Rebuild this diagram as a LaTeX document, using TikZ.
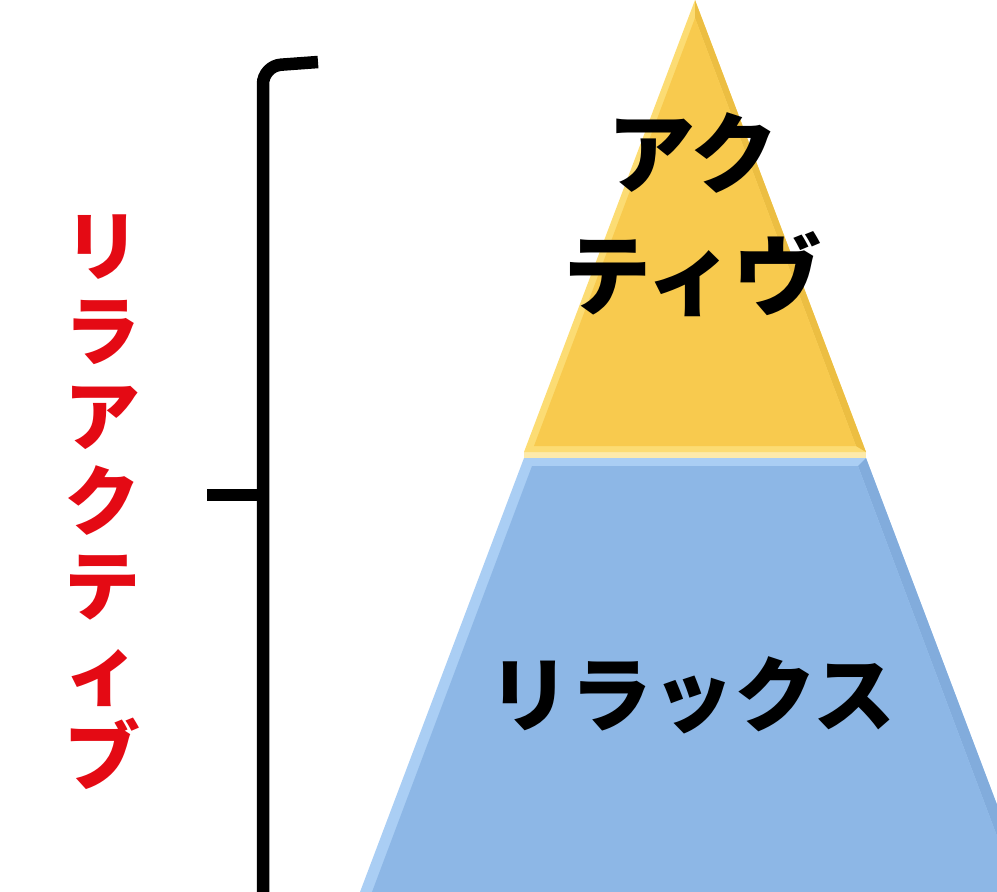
\documentclass[tikz,border=0pt]{standalone}
\usepackage{fontspec}
\newfontfamily\jp{Noto Sans CJK JP}
\definecolor{goldfill}{RGB}{248,202,78}
\definecolor{goldlight}{RGB}{252,220,115}
\definecolor{golddark}{RGB}{236,190,66}
\definecolor{skyfill}{RGB}{141,183,230}
\definecolor{skylight}{RGB}{170,206,244}
\definecolor{skydark}{RGB}{130,172,220}
\definecolor{redtext}{RGB}{228,10,20}
\tikzset{
  bracket/.style={line width=12.5pt, black},
  label/.style={inner sep=0pt, align=center, text=black},
}
\begin{document}
\begin{tikzpicture}[x=1pt,y=-1pt]
\useasboundingbox (0,0) rectangle (997,892);
\begin{scope}
\clip (0,0) rectangle (997,892);
% blue trapezoid (bevel + face)
\fill[skylight] (524,458) -- (866,458) -- (1030,892) -- (360,892) -- cycle;
\fill[skydark] (866,458) -- (1030,892) -- (1018,892) -- (858,466) -- cycle;
\fill[skyfill] (532,466) -- (858,466) -- (1018,892) -- (372,892) -- cycle;
% separator
\fill[goldlight!60!white] (524,452) rectangle (866,458);
% yellow triangle (bevel + face)
\fill[goldlight] (695,0) -- (866,452) -- (524,452) -- cycle;
\fill[golddark] (695,0) -- (866,452) -- (856,446) -- (695,18) -- cycle;
\fill[goldfill] (695,18) -- (856,446) -- (534,446) -- cycle;
\end{scope}
% texts
\node[label, font=\jp\bfseries\fontsize{88}{122}\selectfont] (active) at (693,215) {アク\\ティヴ};
\node[label, font=\jp\bfseries\fontsize{82}{100}\selectfont] (relax) at (692,695) {リラックス};
\node[label, text=redtext, font=\jp\bfseries\fontsize{76}{85}\selectfont] (reactive) at (102,502) {リ\\ラ\\ア\\ク\\テ\\ィ\\ブ};
% bracket
\coordinate (btop) at (318,62);
\coordinate (bcorner) at (263,66);
\coordinate (bbottom) at (263,892);
\coordinate (bmid) at (263,495);
\coordinate (btick) at (207,495);
\draw[bracket, rounded corners=18pt] (btop) -- (bcorner) -- (bbottom);
\draw[bracket] (btick) -- (bmid);
\end{tikzpicture}
\end{document}
